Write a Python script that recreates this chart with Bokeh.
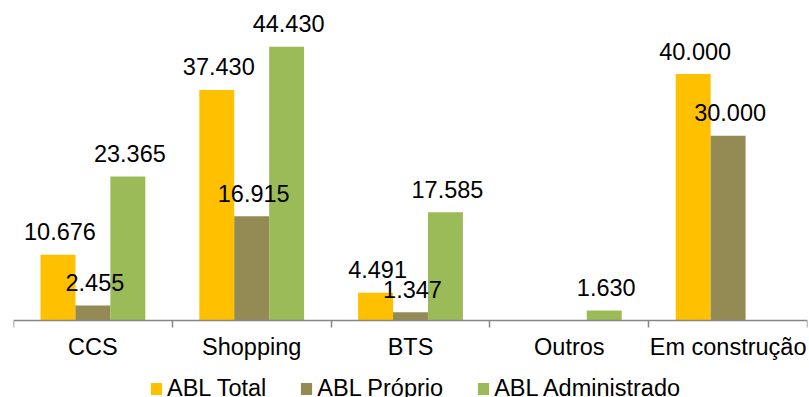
from bokeh.plotting import figure
from bokeh.models import Range1d, FixedTicker, Legend, LegendItem, ColumnDataSource
from bokeh.core.properties import value
from bokeh.embed import file_html
from bokeh.resources import INLINE

categories = ["CCS", "Shopping", "BTS", "Outros", "Em construção"]
series_names = ["ABL Total", "ABL Próprio", "ABL Administrado"]
abl_total = [10676, 37430, 4491, None, 40000]
abl_proprio = [2455, 16915, 1347, None, 30000]
abl_admin = [23365, 44430, 17585, 1630, None]
colors = ["#FFC000", "#948A54", "#9BBB59"]

FONT = "Liberation Sans"
FS = "23.5px"
n = len(categories)
bar_w = 0.22
offsets = [-bar_w, 0.0, bar_w]
y_max = 50000
y_min = -12500  # room below the baseline for category labels and legend

p = figure(width=809, height=397, x_range=Range1d(0, n), y_range=Range1d(y_min, y_max),
           output_backend="svg", toolbar_location=None, y_axis_location=None,
           min_border_left=13, min_border_right=2, min_border_top=12, min_border_bottom=0)
p.xgrid.visible = False
p.ygrid.visible = False
p.outline_line_color = None
p.background_fill_color = "white"

all_series = [abl_total, abl_proprio, abl_admin]
items = []
label_sources = []
for name, vals, off, col in zip(series_names, all_series, offsets, colors):
    xs = [i + 0.5 + off for i in range(n)]
    tops = [float("nan") if v is None else v for v in vals]
    src = ColumnDataSource(dict(x=xs, top=tops))
    r = p.vbar(x="x", top="top", width=bar_w, bottom=0, source=src, fill_color=col, line_color=None)
    items.append(LegendItem(label=name, renderers=[r]))
    lx = [x for x, v in zip(xs, vals) if v is not None]
    ly = [v for v in vals if v is not None]
    lt = [f"{v:,}".replace(",", ".") for v in vals if v is not None]
    label_sources.append(ColumnDataSource(dict(x=lx, y=ly, t=lt)))

for lsrc in label_sources:
    p.text(x="x", y="y", text="t", source=lsrc, text_font=value(FONT), text_font_size=FS,
           text_align="center", text_baseline="alphabetic", x_offset=2, y_offset=-23,
           text_color="black")

ax = p.xaxis[0]
ax.fixed_location = 0
ax.ticker = FixedTicker(ticks=[i + 0.5 for i in range(n)], minor_ticks=list(range(n + 1)))
ax.major_label_overrides = {i + 0.5: c for i, c in enumerate(categories)}
ax.major_tick_out = 0
ax.major_tick_in = 0
ax.minor_tick_out = 7
ax.minor_tick_in = 0
ax.minor_tick_line_color = "#868686"
ax.minor_tick_line_width = 1.5
ax.axis_line_color = "#868686"
ax.axis_line_width = 1.5
ax.major_label_text_font = FONT
ax.major_label_text_font_size = FS
ax.major_label_text_color = "black"
ax.major_label_standoff = 6

legend = Legend(items=items, orientation="horizontal", location=(136, -5))
legend.border_line_color = None
legend.background_fill_alpha = 0
legend.padding = 0
legend.margin = 0
legend.spacing = 33
legend.glyph_width = 14
legend.glyph_height = 15
legend.label_standoff = 4
legend.label_text_font = FONT
legend.label_text_font_size = FS
legend.label_text_color = "black"
legend.label_height = 20
p.add_layout(legend, "center")

open("out.html", "w").write(file_html(p, INLINE))
